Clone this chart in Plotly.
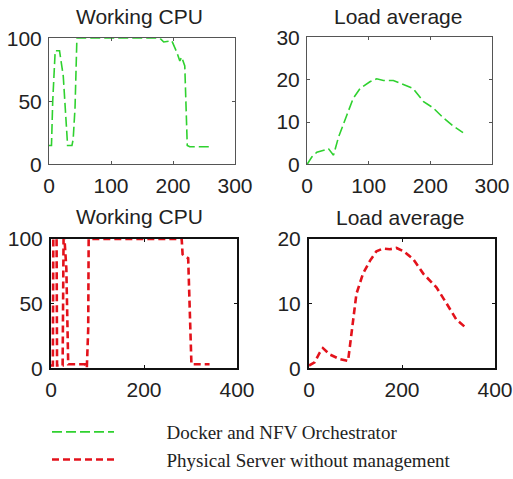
import plotly.graph_objects as go

W, H = 513, 479

# ---- data ----
cpu_docker_x = [0, 4, 6, 10, 17, 23, 30, 37, 39, 42, 45, 100, 179, 185, 198, 206, 211, 214, 219, 223, 227, 235, 262]
cpu_docker_y = [15, 15, 50, 90, 90, 70, 15, 15, 20, 45, 100, 100, 100, 97, 98, 89, 82, 85, 78, 15, 14, 14, 14]

load_docker_x = [0, 8, 16, 24, 35, 43, 51, 65, 75, 86, 102, 113, 124, 140, 156, 172, 189, 205, 221, 237, 253]
load_docker_y = [0, 1.8, 2.9, 3.3, 3.7, 2.2, 6.4, 11.8, 15.6, 17.9, 19.5, 20.2, 19.8, 19.8, 18.8, 17.9, 14.8, 13.3, 11, 9.1, 7.5]

cpu_phys_x = [0, 4, 5, 12, 13, 25, 27, 29, 33, 35, 37, 73, 77, 80, 81, 281, 283, 295, 302, 341]
cpu_phys_y = [2, 2, 100, 100, 2, 2, 100, 100, 77, 29, 3, 3, 0, 30, 100, 100, 88, 85, 3, 3]

load_phys_x = [0, 12, 23, 30, 45, 66, 84, 91, 102, 116, 131, 145, 159, 174, 188, 203, 224, 246, 274, 296, 317, 335]
load_phys_y = [0.4, 0.9, 2.4, 3.1, 2.1, 1.4, 1.1, 5.4, 11.5, 14.6, 16.6, 18.1, 18.5, 18.4, 18.6, 18.1, 16.9, 14.6, 12.5, 10, 7.5, 6.4]

series_names = ["Docker and NFV Orchestrator", "Physical Server without management"]
titles = ["Working CPU", "Load average", "Working CPU", "Load average"]

GREEN = "#2fd12f"
RED = "#e3121b"
PAD = "\u00a0" * 10

fig = go.Figure()

def dom_x(a, b):
    return [a / W, b / W]

def dom_y(top, bot):
    return [1 - bot / H, 1 - top / H]

# panel pixel boxes: (x0, x1, ytop, ybottom)
boxes = [
    (49, 235, 39, 168),
    (307, 492, 38, 168),
    (51, 237, 244, 376),
    (309, 495, 244, 376),
]
xranges = [[0, 300], [0, 300], [0, 400], [0, 400]]
yranges = [[0, 100], [0, 30], [0, 100], [0, 20]]
xticks = [[0, 100, 200, 300], [0, 100, 200, 300], [0, 200, 400], [0, 200, 400]]
yticks = [[0, 50, 100], [0, 10, 20, 30], [0, 50, 100], [0, 10, 20]]

data = [
    (cpu_docker_x, cpu_docker_y, GREEN, 1.6, "10px,4px", series_names[0], True),
    (load_docker_x, load_docker_y, GREEN, 1.6, "10px,4px", series_names[0], False),
    (cpu_phys_x, cpu_phys_y, RED, 2.6, "7px,4px", series_names[1], True),
    (load_phys_x, load_phys_y, RED, 2.6, "7px,4px", series_names[1], False),
]

tickfont = dict(family="Liberation Sans, Arial, sans-serif", size=21, color="#222")

for i, (bx, d) in enumerate(zip(boxes, data)):
    n = "" if i == 0 else str(i + 1)
    x, y, col, w, dash, name, show = d
    fig.add_trace(go.Scatter(
        x=x, y=y, mode="lines", name=PAD + name, showlegend=show,
        line=dict(color=col, width=w, dash=dash),
        xaxis="x" + n, yaxis="y" + n,
    ))
    bottom = i >= 2
    linecol = "#111" if bottom else "#555"
    linew = 2 if bottom else 1
    fig.layout["xaxis" + n] = dict(
        domain=dom_x(bx[0], bx[1]), range=xranges[i], anchor="y" + n,
        tickvals=xticks[i], showgrid=False, zeroline=False, automargin=False,
        showline=True, mirror="allticks", linecolor=linecol, linewidth=linew,
        ticks="inside", ticklen=3, tickcolor=linecol, tickfont=tickfont,
        ticklabelstandoff=2,
    )
    fig.layout["yaxis" + n] = dict(
        domain=dom_y(bx[2], bx[3]), range=yranges[i], anchor="x" + n,
        tickvals=yticks[i], showgrid=False, zeroline=False, automargin=False,
        showline=True, mirror="allticks", linecolor=linecol, linewidth=linew,
        ticks="inside", ticklen=3, tickcolor=linecol, tickfont=tickfont,
        ticklabelstandoff=2,
    )

title_pos = [(139, 17), (398, 17), (139, 221), (400, 222)]
for t, (tx, ty) in zip(titles, title_pos):
    fig.add_annotation(
        text=t, x=tx / W, y=1 - ty / H, xref="paper", yref="paper",
        showarrow=False, xanchor="center", yanchor="middle",
        font=dict(family="Liberation Sans, Arial, sans-serif", size=21, color="#222"),
    )

fig.update_layout(
    template="none",
    width=W, height=H,
    margin=dict(l=0, r=0, t=0, b=0),
    paper_bgcolor="white", plot_bgcolor="white",
    legend=dict(
        x=47 / W, y=1 - 422 / H, xanchor="left", yanchor="top",
        font=dict(family="Liberation Serif, Times New Roman, serif", size=19, color="#222"),
        itemwidth=62, bgcolor="rgba(0,0,0,0)", tracegroupgap=0, borderwidth=0,
    ),
)

fig.write_html(
    "out.html",
    config={"displayModeBar": False},
    post_script="document.body.style.margin='0';document.body.style.overflow='hidden';",
)
